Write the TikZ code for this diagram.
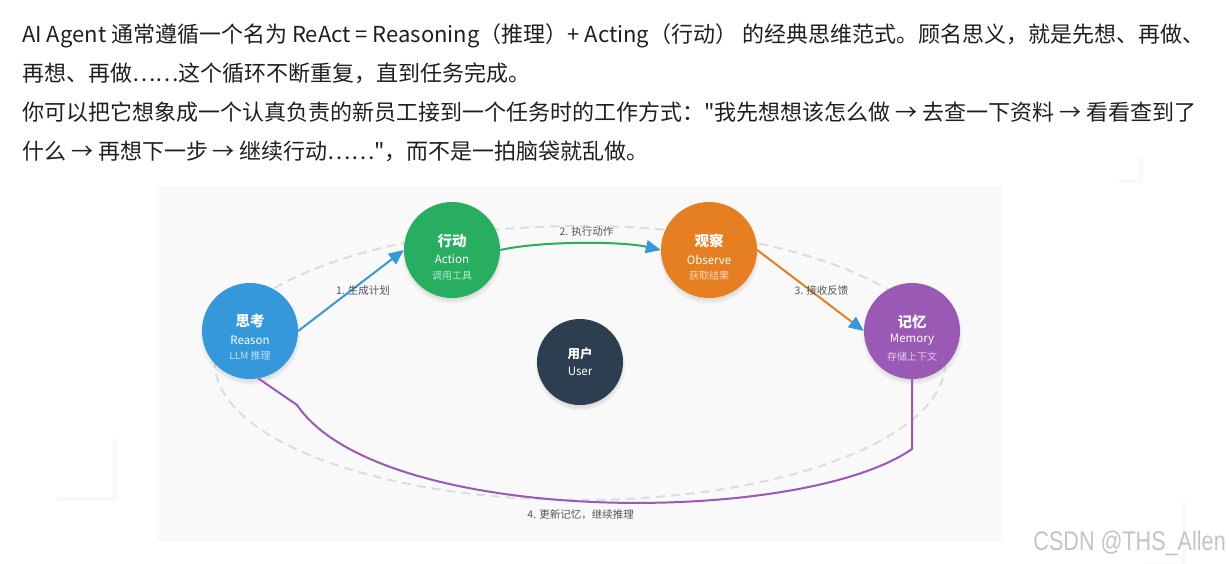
\documentclass[tikz,border=0pt]{standalone}
\usepackage{fontspec}
\setmainfont{Noto Sans CJK SC}
\newfontfamily\markfont{Liberation Sans}
\usetikzlibrary{arrows.meta,shadows}

\definecolor{reasonblue}{HTML}{3498DB}
\definecolor{actiongreen}{HTML}{27AE60}
\definecolor{observeorange}{HTML}{E67E22}
\definecolor{memorypurple}{HTML}{9B59B6}
\definecolor{userdark}{HTML}{2C3E50}
\definecolor{panelgray}{HTML}{F9F9F9}
\definecolor{cyclegray}{HTML}{DDDDDD}
\definecolor{labelgray}{HTML}{555555}
\definecolor{markgray}{HTML}{C4C4C4}

\tikzset{
  introtext/.style={anchor=base west, inner sep=0pt, text=black!88,
    font=\fontsize{22}{26}\selectfont},
  agent/.style={circle, fill=#1, minimum size=96pt, inner sep=0pt,
    circular drop shadow={shadow xshift=0pt, shadow yshift=-3pt,
      shadow scale=1.06, opacity=0.3}},
  ttl/.style={inner sep=0pt, text=white, font=\bfseries\fontsize{14.5}{16}\selectfont},
  eng/.style={inner sep=0pt, text=white, font=\fontsize{11.5}{13}\selectfont},
  subtxt/.style={inner sep=0pt, text=white, text opacity=0.7,
    font=\fontsize{10}{11}\selectfont},
  edgelabel/.style={inner sep=0pt, text=labelgray, font=\fontsize{10.5}{12}\selectfont},
  cycleline/.style={cyclegray, line width=2pt, dash pattern=on 9pt off 6pt},
  flow/.style={line width=2pt, draw=#1,
    -{Triangle[length=15pt, width=13pt, color=reasonblue]}},
  ghost/.style={white, drop shadow={shadow xshift=4pt, shadow yshift=-4pt, opacity=0.05}},
}

\begin{document}
\begin{tikzpicture}[x=1pt,y=-1pt]
  \useasboundingbox (0,0) rectangle (1229,563);

  % Intro text
  \node[introtext] (line1) at (22,42.5) {AI Agent 通常遵循一个名为 ReAct = Reasoning（推理）+ Acting（行动） 的经典思维范式。顾名思义，就是先想、再做、};
  \node[introtext] (line2) at (22,81.5) {再想、再做……这个循环不断重复，直到任务完成。};
  \node[introtext] (line3) at (22,120.5) {你可以把它想象成一个认真负责的新员工接到一个任务时的工作方式：\textquotedbl 我先想想该怎么做 → 去查一下资料 → 看看查到了};
  \node[introtext] (line4) at (22,159.5) {什么 → 再想下一步 → 继续行动……\textquotedbl，而不是一拍脑袋就乱做。};

  % Leftover boxes of the page
  \fill[ghost] (1115,154) rectangle (1139,179);
  \fill[ghost] (53,435) rectangle (113,497);
  \fill[ghost] (1140,497) rectangle (1182,563);

  % Panel
  \fill[panelgray] (157,186) rectangle (1002,541);

  % ReAct loop
  \draw[cycleline] (580,363) ellipse [x radius=365, y radius=137];

  % Agents
  \node[agent=reasonblue]    (reason)  at (250,331) {};
  \node[agent=actiongreen]   (action)  at (452,250) {};
  \node[agent=observeorange] (observe) at (709,250) {};
  \node[agent=memorypurple]  (memory)  at (912,331) {};
  \node[agent=userdark, minimum size=86pt] (user) at (580,362) {};

  \node[ttl]    (reasonT) at ([yshift=10pt]reason.center)   {思考};
  \node[eng]    (reasonE) at ([yshift=-9pt]reason.center)   {Reason};
  \node[subtxt] (reasonS) at ([yshift=-25pt]reason.center)  {LLM 推理};
  \node[ttl]    (actionT) at ([yshift=9.5pt]action.center)  {行动};
  \node[eng]    (actionE) at ([yshift=-9.5pt]action.center) {Action};
  \node[subtxt] (actionS) at ([yshift=-25.5pt]action.center) {调用工具};
  \node[ttl]    (observeT) at ([yshift=9.5pt]observe.center)  {观察};
  \node[eng]    (observeE) at ([yshift=-9.5pt]observe.center) {Observe};
  \node[subtxt] (observeS) at ([yshift=-25.5pt]observe.center) {获取结果};
  \node[ttl]    (memoryT) at ([yshift=9pt]memory.center)   {记忆};
  \node[eng]    (memoryE) at ([yshift=-9pt]memory.center)  {Memory};
  \node[subtxt] (memoryS) at ([yshift=-26pt]memory.center) {存储上下文};
  \node[ttl, font=\bfseries\fontsize{12.5}{14}\selectfont] (userT) at ([yshift=8pt]user.center) {用户};
  \node[eng]    (userE) at ([yshift=-9pt]user.center) {User};

  % Steps
  \draw[flow=reasonblue] (reason.east) -- node[edgelabel, xshift=12pt] (step1) {1. 生成计划} (action.west);
  \draw[flow=actiongreen] (action.east) .. controls +(40,-9) and +(-40,-9) .. node[edgelabel, above=6pt, xshift=6pt] (step2) {2. 执行动作} (observe.west);
  \draw[flow=observeorange] (observe.east) -- node[edgelabel, xshift=11pt] (step3) {3. 接收反馈} (memory.west);
  \draw[memorypurple, line width=2pt] (memory.south) -- (912,449)
    .. controls (800,527) and (380,527) .. node[edgelabel, below=7pt, xshift=-13pt] (step4) {4. 更新记忆，继续推理} (297,405)
    -- (reason.-80);

  % Watermark
  \node[anchor=east, inner sep=0pt, text=markgray, font=\markfont\fontsize{27}{30}\selectfont] (mark) at (1226,543) {\scalebox{0.8}[1]{CSDN @THS\_Allen}};
\end{tikzpicture}
\end{document}
